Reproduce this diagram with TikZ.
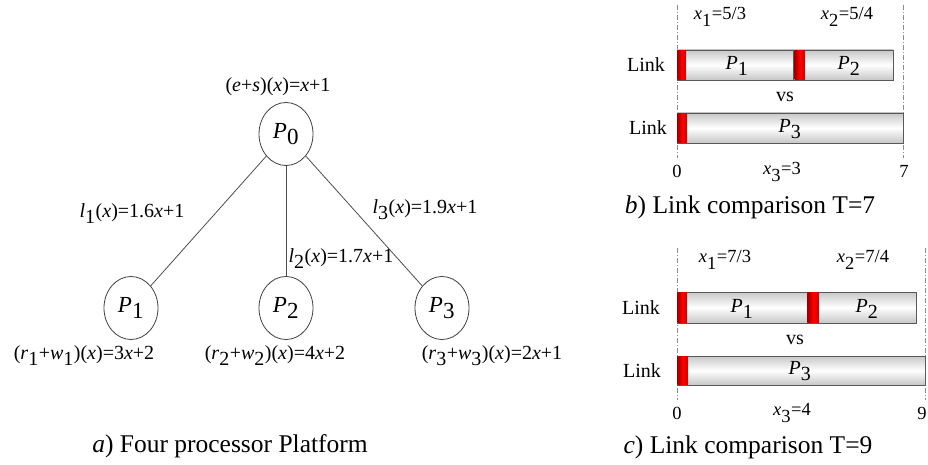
\documentclass[tikz,border=0pt]{standalone}
\usepackage{fontspec}
\setmainfont{Liberation Serif}
\usetikzlibrary{shapes.geometric}
\newcommand\lsub[1]{\ensuremath{_{\textrm{#1}}}}
\newcommand\iv[1]{\textit{#1}}
\begin{document}
\begin{tikzpicture}[x=1pt,y=-1pt,
  proc/.style={draw=black!75,line width=0.8pt,ellipse,minimum width=54pt,minimum height=63pt,inner sep=0pt,font=\fontsize{23}{26}\selectfont},
  edge/.style={draw=black!70,line width=0.8pt},
  lbl/.style={inner sep=0pt,font=\fontsize{20}{23}\selectfont},
  captxt/.style={inner sep=0pt,font=\fontsize{25.5}{29}\selectfont},
  linklbl/.style={inner sep=0pt,font=\fontsize{20}{23}\selectfont},
  seglbl/.style={inner sep=0pt,font=\fontsize{20}{23}\selectfont},
  ticklbl/.style={inner sep=0pt,font=\fontsize{18.5}{22}\selectfont},
  bar/.style={draw=black!65,line width=0.8pt,top color=black!22,bottom color=black!22,middle color=white},
  redseg/.style={left color=red!60!black,right color=red!80!black,middle color=red},
  guide/.style={draw=black!45,line width=0.6pt,dash pattern=on 5pt off 2pt on 1pt off 2pt}]
\useasboundingbox (0,0) rectangle (928,465);

% ---- a) processor tree ----
\node[proc] (p0) at (286,134) {\iv{P}\lsub{0}};
\node[proc] (p1) at (131,308) {\iv{P}\lsub{1}};
\node[proc] (p2) at (286,308) {\iv{P}\lsub{2}};
\node[proc] (p3) at (442,308) {\iv{P}\lsub{3}};
\draw[edge] (p0) -- (p1);
\draw[edge] (p0) -- (p2);
\draw[edge] (p0) -- (p3);

\node[lbl] (es) at (278,87) {(\iv{e}+\iv{s})(\iv{x})=\iv{x}+1};
\node[lbl] (l1) at (132,214) {\iv{l}\lsub{1}(\iv{x})=1.6\iv{x}+1};
\node[lbl] (l2) at (341,259) {\iv{l}\lsub{2}(\iv{x})=1.7\iv{x}+1};
\node[lbl] (l3) at (425,210) {\iv{l}\lsub{3}(\iv{x})=1.9\iv{x}+1};
\node[lbl] (rw1) at (84,356) {(\iv{r}\lsub{1}+\iv{w}\lsub{1})(\iv{x})=3\iv{x}+2};
\node[lbl] (rw2) at (275,356) {(\iv{r}\lsub{2}+\iv{w}\lsub{2})(\iv{x})=4\iv{x}+2};
\node[lbl] (rw3) at (492,356) {(\iv{r}\lsub{3}+\iv{w}\lsub{3})(\iv{x})=2\iv{x}+1};
\node[captxt] (capa) at (230,446) {\iv{a}) Four processor Platform};

% ---- b) link comparison, T=7 ----
\coordinate (b0t) at (677,5);   \coordinate (b0b) at (677,158);
\coordinate (b7t) at (903,5);   \coordinate (b7b) at (903,158);
\draw[guide] (b0t) -- (b0b);
\draw[guide] (b7t) -- (b7b);
\path[bar] (677,50) rectangle (793,80);
\path[bar] (793,50) rectangle (893,80);
\path[redseg] (677.5,50.5) rectangle (686,79.5);
\path[redseg] (794.5,50.5) rectangle (805,79.5);
\path[bar] (677,113) rectangle (903,143);
\path[redseg] (677.5,113.5) rectangle (687,142.5);
\node[seglbl] (bp1) at (737,66) {\iv{P}\lsub{1}};
\node[seglbl] (bp2) at (849,66) {\iv{P}\lsub{2}};
\node[seglbl] (bp3) at (790,129) {\iv{P}\lsub{3}};
\node[linklbl] (blink1) at (646,65) {Link};
\node[linklbl] (blink2) at (648,128) {Link};
\node[linklbl] (bvs) at (785,97) {vs};
\node[ticklbl] (bx1) at (720,17) {\iv{x}\lsub{1}=5/3};
\node[ticklbl] (bx2) at (847,17) {\iv{x}\lsub{2}=5/4};
\node[ticklbl] (b0) at (677,171) {0};
\node[ticklbl] (b7) at (904,171) {7};
\node[ticklbl] (bx3) at (782,172) {\iv{x}\lsub{3}=3};
\node[captxt] (capb) at (750,207) {\iv{b}) Link comparison T=7};

% ---- c) link comparison, T=9 ----
\coordinate (c0t) at (677,248); \coordinate (c0b) at (677,400);
\coordinate (c9t) at (925,248); \coordinate (c9b) at (925,400);
\draw[guide] (c0t) -- (c0b);
\draw[guide] (c9t) -- (c9b);
\path[bar] (677,292) rectangle (807,323);
\path[bar] (807,292) rectangle (916,323);
\path[redseg] (677.5,292.5) rectangle (687,322.5);
\path[redseg] (807.5,292.5) rectangle (819,322.5);
\path[bar] (677,356) rectangle (925,385);
\path[redseg] (677.5,356.5) rectangle (688,384.5);
\node[seglbl] (cp1) at (742,309) {\iv{P}\lsub{1}};
\node[seglbl] (cp2) at (867,309) {\iv{P}\lsub{2}};
\node[seglbl] (cp3) at (800,371) {\iv{P}\lsub{3}};
\node[linklbl] (clink1) at (641,308) {Link};
\node[linklbl] (clink2) at (642,371) {Link};
\node[linklbl] (cvs) at (795,340) {vs};
\node[ticklbl] (cx1) at (725,260) {\iv{x}\lsub{1}=7/3};
\node[ticklbl] (cx2) at (863,260) {\iv{x}\lsub{2}=7/4};
\node[ticklbl] (c0) at (677,413) {0};
\node[ticklbl] (c9) at (922,413) {9};
\node[ticklbl] (cx3) at (792,413) {\iv{x}\lsub{3}=4};
\node[captxt] (capc) at (748,447) {\iv{c}) Link comparison T=9};
\end{tikzpicture}
\end{document}
